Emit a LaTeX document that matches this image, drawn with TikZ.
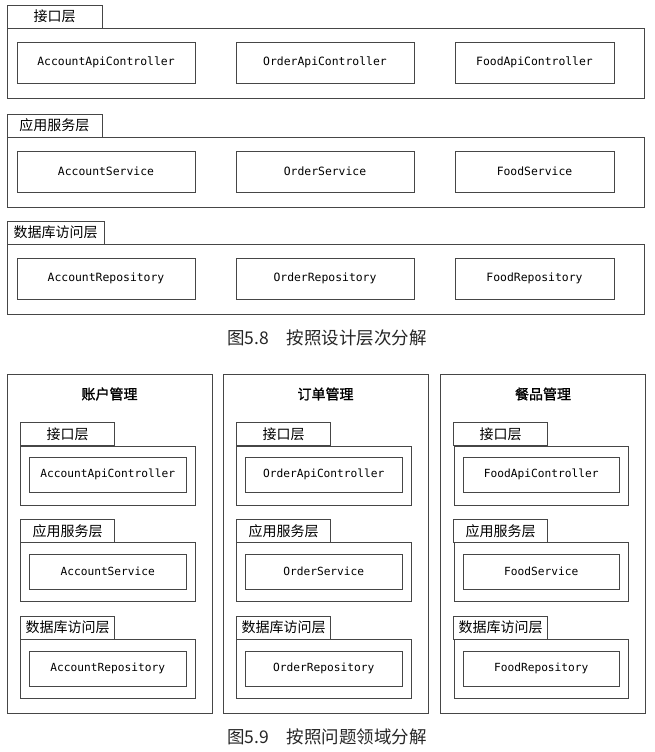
\documentclass[tikz,border=0pt]{standalone}
\usepackage{fontspec}
\usepackage{tikz}
\setmonofont{DejaVu Sans Mono}
\newfontfamily\cjk{Noto Sans CJK SC}
\newfontfamily\cjkbold[FakeBold=1.2]{Noto Sans CJK SC}
\definecolor{linegray}{RGB}{70,70,70}

\begin{document}
\begin{tikzpicture}[x=1pt,y=-1pt,
        every node/.style={line width=0.8pt,draw=linegray,inner sep=0pt,outer sep=0pt},
        tab/.style={minimum width=95pt,minimum height=23pt,font=\cjk\fontsize{14}{14}\selectfont},
        smalltab/.style={tab,minimum width=94pt},
        layer/.style={minimum width=637pt,minimum height=70pt},
        smalllayer/.style={minimum width=174.5pt,minimum height=59pt},
        cls/.style={minimum height=41pt,font=\ttfamily\fontsize{11.4}{11.4}\selectfont},
        smallcls/.style={minimum width=156.5pt,minimum height=35pt,font=\ttfamily\fontsize{11.2}{11.2}\selectfont},
        domainbox/.style={minimum width=205pt,minimum height=339pt},
        domaintitle/.style={draw=none,font=\cjkbold\fontsize{14}{14}\selectfont},
        figcaption/.style={draw=none,text=black!85,font=\cjk\fontsize{17.5}{17.5}\selectfont}]
    \useasboundingbox (0,0) rectangle (655,752);

    % 图5.8
    \node[layer] (apiLayer) at (325.5,63) {};
    \node[tab,fill=white] (apiTab) at (54.5,16.5) {接口层};
    \node[cls,minimum width=178pt] (accountApi) at (106,62.5) {AccountApiController};
    \node[cls,minimum width=178pt] (orderApi) at (325,62.5) {OrderApiController};
    \node[cls,minimum width=159pt] (foodApi) at (534.5,62.5) {FoodApiController};

    \node[layer] (serviceLayer) at (325.5,172) {};
    \node[tab] (serviceTab) at (54.5,125.5) {应用服务层};
    \node[cls,minimum width=178pt] (accountService) at (106,171.5) {AccountService};
    \node[cls,minimum width=178pt] (orderService) at (325,171.5) {OrderService};
    \node[cls,minimum width=159pt] (foodService) at (534.5,171.5) {FoodService};

    \node[layer] (repoLayer) at (325.5,279) {};
    \node[tab,minimum width=97pt] (repoTab) at (55.5,232.5) {数据库访问层};
    \node[cls,minimum width=178pt] (accountRepo) at (106,278.5) {AccountRepository};
    \node[cls,minimum width=178pt] (orderRepo) at (325,278.5) {OrderRepository};
    \node[cls,minimum width=159pt] (foodRepo) at (534.5,278.5) {FoodRepository};

    \node[figcaption] (fig58) at (327,338) {图5.8\hspace{1em}按照设计层次分解};

    % 图5.9
    \node[domainbox] (account) at (109.5,543.5) {};
    \node[domaintitle] (accountTitle) at (109.5,394) {账户管理};
    \node[smalllayer] (accountApiLayer) at (107.75,475.5) {};
    \node[smalltab] (accountApiTab) at (67.5,434) {接口层};
    \node[smallcls] (accountApi2) at (107.75,474.5) {AccountApiController};
    \node[smalllayer] (accountServiceLayer) at (107.75,572) {};
    \node[smalltab] (accountServiceTab) at (67.5,531) {应用服务层};
    \node[smallcls] (accountService2) at (107.75,571.5) {AccountService};
    \node[smalllayer] (accountRepoLayer) at (107.75,669) {};
    \node[smalltab] (accountRepoTab) at (67.5,627.5) {数据库访问层};
    \node[smallcls] (accountRepo2) at (107.75,668.5) {AccountRepository};

    \node[domainbox] (order) at (325.5,543.5) {};
    \node[domaintitle] (orderTitle) at (325.5,394) {订单管理};
    \node[smalllayer] (orderApiLayer) at (323.75,475.5) {};
    \node[smalltab] (orderApiTab) at (283.5,434) {接口层};
    \node[smallcls] (orderApi2) at (323.75,474.5) {OrderApiController};
    \node[smalllayer] (orderServiceLayer) at (323.75,572) {};
    \node[smalltab] (orderServiceTab) at (283.5,531) {应用服务层};
    \node[smallcls] (orderService2) at (323.75,571.5) {OrderService};
    \node[smalllayer] (orderRepoLayer) at (323.75,669) {};
    \node[smalltab] (orderRepoTab) at (283.5,627.5) {数据库访问层};
    \node[smallcls] (orderRepo2) at (323.75,668.5) {OrderRepository};

    \node[domainbox] (food) at (543,543.5) {};
    \node[domaintitle] (foodTitle) at (543,394) {餐品管理};
    \node[smalllayer] (foodApiLayer) at (541.25,475.5) {};
    \node[smalltab] (foodApiTab) at (500.5,434) {接口层};
    \node[smallcls] (foodApi2) at (541.25,474.5) {FoodApiController};
    \node[smalllayer] (foodServiceLayer) at (541.25,572) {};
    \node[smalltab] (foodServiceTab) at (500.5,531) {应用服务层};
    \node[smallcls] (foodService2) at (541.25,571.5) {FoodService};
    \node[smalllayer] (foodRepoLayer) at (541.25,669) {};
    \node[smalltab] (foodRepoTab) at (500.5,627.5) {数据库访问层};
    \node[smallcls] (foodRepo2) at (541.25,668.5) {FoodRepository};

    \node[figcaption] (fig59) at (327,737) {图5.9\hspace{1em}按照问题领域分解};
\end{tikzpicture}
\end{document}
